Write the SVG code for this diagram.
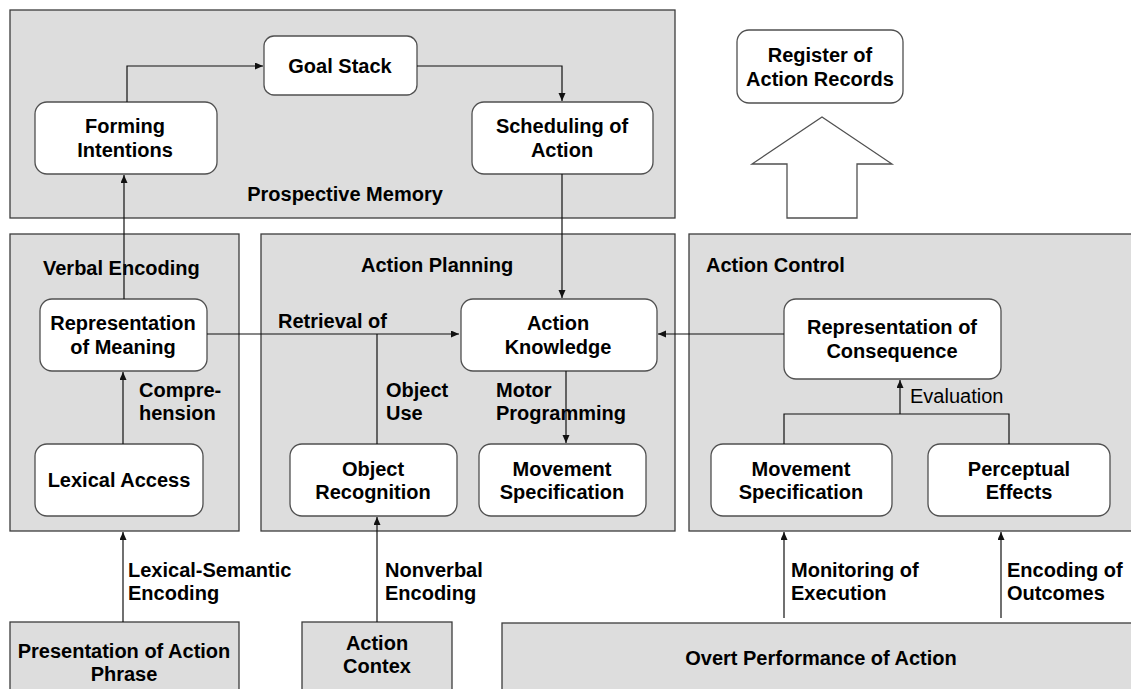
<svg xmlns="http://www.w3.org/2000/svg" width="1131" height="689" viewBox="0 0 1131 689">
  <style>
    .panel { fill: #dddddd; stroke: #3c3c3c; stroke-width: 1.3; }
    .node { fill: #ffffff; stroke: #505050; stroke-width: 1.3; }
    .wire { fill: none; stroke: #111111; stroke-width: 1.2; }
    text { font-family: "Liberation Sans", Arial, sans-serif; font-size: 20px; font-weight: bold; fill: #000000; }
    .mid { text-anchor: middle; }
    .plain { font-weight: normal; }
    .bigarrow { fill: #ffffff; stroke: #505050; stroke-width: 1.3; }
  </style>
  <defs>
    <marker id="tip" markerUnits="userSpaceOnUse" markerWidth="9" markerHeight="8" refX="8" refY="3.5" orient="auto">
      <path d="M0,0 L8,3.5 L0,7 z" fill="#111111"/>
    </marker>
  </defs>
  <rect width="1131" height="689" fill="#ffffff"/>

  <!-- panels -->
  <g id="prospective-memory">
    <rect class="panel" x="10" y="10" width="665" height="208"/>
    <text class="mid" x="345" y="201">Prospective Memory</text>
  </g>
  <g id="verbal-encoding">
    <rect class="panel" x="10" y="234" width="229" height="297"/>
    <text x="43" y="275">Verbal Encoding</text>
  </g>
  <g id="action-planning">
    <rect class="panel" x="261" y="234" width="414" height="297"/>
    <text x="361" y="272">Action Planning</text>
  </g>
  <g id="action-control">
    <rect class="panel" x="689" y="234" width="460" height="297"/>
    <text x="706" y="272">Action Control</text>
  </g>
  <g id="presentation">
    <rect class="panel" x="10" y="622" width="229" height="80"/>
    <text class="mid" x="124" y="658">Presentation of Action</text>
    <text class="mid" x="124" y="681">Phrase</text>
  </g>
  <g id="action-contex">
    <rect class="panel" x="302" y="622" width="150" height="80"/>
    <text class="mid" x="377" y="650">Action</text>
    <text class="mid" x="377" y="673">Contex</text>
  </g>
  <g id="overt-performance">
    <rect class="panel" x="502" y="623" width="650" height="80"/>
    <text class="mid" x="821" y="665">Overt Performance of Action</text>
  </g>

  <!-- nodes -->
  <g id="goal-stack">
    <rect class="node" x="264" y="36" width="153" height="59" rx="10"/>
    <text class="mid" x="340" y="73">Goal Stack</text>
  </g>
  <g id="forming-intentions">
    <rect class="node" x="35" y="102" width="182" height="72" rx="12"/>
    <text class="mid" x="125" y="133">Forming</text>
    <text class="mid" x="125" y="157">Intentions</text>
  </g>
  <g id="scheduling-of-action">
    <rect class="node" x="472" y="102" width="181" height="72" rx="12"/>
    <text class="mid" x="562" y="133">Scheduling of</text>
    <text class="mid" x="562" y="157">Action</text>
  </g>
  <g id="register-of-action-records">
    <rect class="node" x="737" y="30" width="166" height="73" rx="12"/>
    <text class="mid" x="820" y="62">Register of</text>
    <text class="mid" x="820" y="86">Action Records</text>
  </g>
  <g id="record-arrow">
    <path class="bigarrow" d="M822,117 L892,164 L857,164 L857,218 L787,218 L787,164 L752,164 Z"/>
  </g>
  <g id="representation-of-meaning">
    <rect class="node" x="40" y="299" width="167" height="72" rx="12"/>
    <text class="mid" x="123" y="330">Representation</text>
    <text class="mid" x="123" y="354">of Meaning</text>
  </g>
  <g id="lexical-access">
    <rect class="node" x="35" y="444" width="168" height="72" rx="12"/>
    <text class="mid" x="119" y="487">Lexical Access</text>
  </g>
  <g id="action-knowledge">
    <rect class="node" x="461" y="299" width="196" height="72" rx="12"/>
    <text class="mid" x="558" y="330">Action</text>
    <text class="mid" x="558" y="354">Knowledge</text>
  </g>
  <g id="object-recognition">
    <rect class="node" x="290" y="444" width="167" height="72" rx="12"/>
    <text class="mid" x="373" y="476">Object</text>
    <text class="mid" x="373" y="499">Recognition</text>
  </g>
  <g id="movement-specification-planning">
    <rect class="node" x="479" y="444" width="167" height="72" rx="12"/>
    <text class="mid" x="562" y="476">Movement</text>
    <text class="mid" x="562" y="499">Specification</text>
  </g>
  <g id="representation-of-consequence">
    <rect class="node" x="784" y="299" width="217" height="80" rx="12"/>
    <text class="mid" x="892" y="334">Representation of</text>
    <text class="mid" x="892" y="358">Consequence</text>
  </g>
  <g id="movement-specification-control">
    <rect class="node" x="711" y="444" width="181" height="72" rx="12"/>
    <text class="mid" x="801" y="476">Movement</text>
    <text class="mid" x="801" y="499">Specification</text>
  </g>
  <g id="perceptual-effects">
    <rect class="node" x="928" y="444" width="182" height="72" rx="12"/>
    <text class="mid" x="1019" y="476">Perceptual</text>
    <text class="mid" x="1019" y="499">Effects</text>
  </g>

  <!-- connectors -->
  <g id="connectors">
    <path class="wire" d="M127,102 V66 H263" marker-end="url(#tip)"/>
    <path class="wire" d="M417,66 H562 V101" marker-end="url(#tip)"/>
    <path class="wire" d="M124,299 V175" marker-end="url(#tip)"/>
    <path class="wire" d="M123,444 V372" marker-end="url(#tip)"/>
    <path class="wire" d="M562,174 V298" marker-end="url(#tip)"/>
    <path class="wire" d="M207,334 H459" marker-end="url(#tip)"/>
    <path class="wire" d="M377,444 V334"/>
    <path class="wire" d="M566,371 V443" marker-end="url(#tip)"/>
    <path class="wire" d="M784,334 H658" marker-end="url(#tip)"/>
    <path class="wire" d="M784,444 V414 H1009 V444"/>
    <path class="wire" d="M900,414 V380" marker-end="url(#tip)"/>
    <path class="wire" d="M123,622 V532" marker-end="url(#tip)"/>
    <path class="wire" d="M377,622 V517" marker-end="url(#tip)"/>
    <path class="wire" d="M784,618 V532" marker-end="url(#tip)"/>
    <path class="wire" d="M1001,618 V532" marker-end="url(#tip)"/>

    <text x="278" y="328">Retrieval of</text>
    <text x="139" y="397">Compre-</text>
    <text x="139" y="420">hension</text>
    <text x="386" y="397">Object</text>
    <text x="386" y="420">Use</text>
    <text x="496" y="397">Motor</text>
    <text x="496" y="420">Programming</text>
    <text class="plain" x="910" y="403">Evaluation</text>
    <text x="128" y="577">Lexical-Semantic</text>
    <text x="128" y="600">Encoding</text>
    <text x="385" y="577">Nonverbal</text>
    <text x="385" y="600">Encoding</text>
    <text x="791" y="577">Monitoring of</text>
    <text x="791" y="600">Execution</text>
    <text x="1007" y="577">Encoding of</text>
    <text x="1007" y="600">Outcomes</text>
  </g>
</svg>
